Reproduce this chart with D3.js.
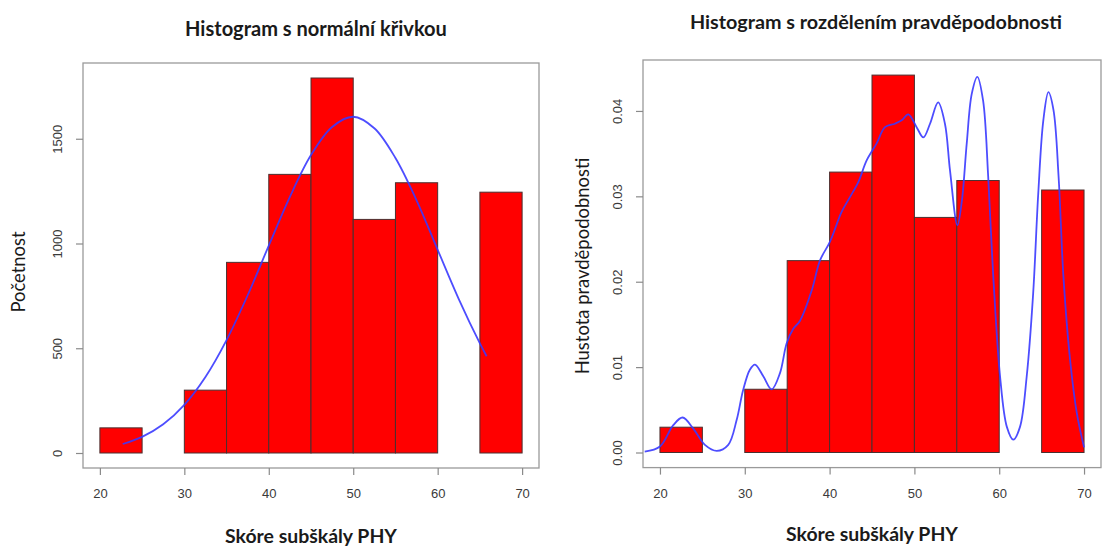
<!DOCTYPE html>
<html>
<head>
<meta charset="utf-8">
<script src="https://cdn.jsdelivr.net/npm/d3@7"></script>
<style>
  html, body { margin: 0; padding: 0; background: #fff; }
  svg { display: block; }
</style>
</head>
<body>
<svg id="chart" width="1102" height="547"></svg>
<script>
// Histogram bins of the PHY subscale score
const binStarts = [20, 25, 30, 35, 40, 45, 50, 55, 60, 65];
const binWidth = 5;
const counts = [120, 0, 300, 910, 1330, 1790, 1115, 1290, 0, 1245];

// Axis ticks
const xTicks = [20, 30, 40, 50, 60, 70];
const countTicks = [0, 500, 1000, 1500];
const densityTicks = [0, 0.01, 0.02, 0.03, 0.04];
const densityTickLabels = ["0.00", "0.01", "0.02", "0.03", "0.04"];

// Fitted normal curve (frequency scale)
const normalX = [22.7, 25, 27.5, 30, 32.5, 35, 37.5, 40, 42.5, 45, 47.5, 50, 52.5, 55, 57.5, 60, 62.5, 65, 65.8];
const normalY = [43, 77, 137, 230, 363, 539, 753, 990, 1223, 1422, 1556, 1605, 1550, 1408, 1206, 970, 735, 523, 462];

// Kernel density estimate (density scale)
const kdeX = [18.2, 20, 21.57, 22.67, 23.93, 25.3, 26.7, 28.05, 29.04, 29.8, 30.6, 31.2, 32.2, 33.17, 34.15, 34.94,
  35.72, 36.5, 37.9, 38.87, 40.05, 41.43, 42.4, 43.4, 44.37, 45.55, 46.53, 47.7, 48.5, 49.28, 50.26, 51.05,
  51.84, 52.8, 53.6, 54.2, 55.07, 55.6, 56.17, 56.76, 57.42, 58.1, 58.7, 59.3, 60.1, 60.9, 61.66, 62.45,
  63.24, 64.0, 64.6, 65.2, 65.8, 66.4, 67.0, 67.57, 68.36, 69.15, 70.0];
const kdeY = [0.0001, 0.0007, 0.0032, 0.0041, 0.0028, 0.0009, 0.0002, 0.0009, 0.0038, 0.0073, 0.0097, 0.0103, 0.0089, 0.0074, 0.0093, 0.0128,
  0.0145, 0.0154, 0.0190, 0.0225, 0.0247, 0.0282, 0.0299, 0.0317, 0.0342, 0.0362, 0.0381, 0.0385, 0.0389, 0.0396, 0.0381, 0.0369,
  0.0385, 0.0410, 0.0385, 0.0330, 0.0266, 0.0295, 0.0362, 0.0420, 0.0440, 0.0412, 0.0323, 0.0206, 0.0089, 0.0030, 0.0015, 0.0030,
  0.0089, 0.0186, 0.0303, 0.0389, 0.0422, 0.0401, 0.0323, 0.0206, 0.0108, 0.0046, 0.0006];

const total = d3.sum(counts);
const densities = counts.map(c => c / (total * binWidth));

const svg = d3.select("#chart");
const titleFont = "Lato, 'Open Sans', sans-serif";
const tickFont = "'Liberation Sans', Arial, sans-serif";

// scale a label's font size so it spans the given length
function fitText(sel, length, base) {
  sel.style("font-size", base + "px");
  const w = sel.node().getComputedTextLength();
  sel.style("font-size", (base * length / w).toFixed(2) + "px");
}

function drawPanel(cfg) {
  const g = svg.append("g");
  const x = d3.scaleLinear().domain([18, 72]).range([cfg.left, cfg.right]);
  const pad = cfg.ymax * 0.04;
  const y = d3.scaleLinear().domain([-pad, cfg.ymax + pad]).range([cfg.bottom, cfg.top]);

  const clipId = "clip-" + cfg.id;
  svg.append("clipPath").attr("id", clipId)
    .append("rect").attr("x", cfg.left).attr("y", cfg.top)
    .attr("width", cfg.right - cfg.left).attr("height", cfg.bottom - cfg.top);

  // bars
  g.append("g").selectAll("rect")
    .data(binStarts.map((s, i) => ({ s, v: cfg.values[i] })))
    .join("rect")
    .attr("x", d => x(d.s))
    .attr("width", d => x(d.s + binWidth) - x(d.s))
    .attr("y", d => y(d.v))
    .attr("height", d => y(0) - y(d.v))
    .attr("fill", "#ff0000")
    .attr("stroke", "#4a3030")
    .attr("stroke-width", 1);

  // curve
  const line = d3.line()
    .x(d => x(d[0])).y(d => y(d[1]))
    .curve(d3.curveCatmullRom.alpha(0.5));
  g.append("path")
    .datum(cfg.curveX.map((v, i) => [v, cfg.curveY[i]]))
    .attr("clip-path", `url(#${clipId})`)
    .attr("d", line)
    .attr("fill", "none")
    .attr("stroke", "#3a3aff")
    .attr("stroke-width", 1.8)
    .attr("stroke-opacity", 0.9);

  // box
  g.append("rect")
    .attr("x", cfg.left).attr("y", cfg.top)
    .attr("width", cfg.right - cfg.left).attr("height", cfg.bottom - cfg.top)
    .attr("fill", "none").attr("stroke", "#9a9a9a").attr("stroke-width", 1.3);

  // x axis
  const xa = g.append("g").attr("transform", `translate(0,${cfg.bottom})`)
    .call(d3.axisBottom(x).tickValues(xTicks).tickSize(7).tickSizeOuter(0).tickPadding(10));
  xa.select(".domain").remove();
  xa.selectAll(".tick line").attr("stroke", "#8a8a8a").attr("stroke-width", 1.2);
  xa.selectAll(".tick text")
    .style("font-family", tickFont).style("font-size", "13px").attr("fill", "#3a3a3a")
    .attr("y", 0).attr("dy", null)
    .attr("transform", `translate(0,${cfg.xTickY - cfg.bottom})`)
    .attr("dominant-baseline", "central");

  // y axis
  const ya = g.append("g").attr("transform", `translate(${cfg.left},0)`)
    .call(d3.axisLeft(y).tickValues(cfg.yTicks).tickSize(7).tickSizeOuter(0)
      .tickFormat((d, i) => cfg.yTickLabels[i]));
  ya.select(".domain").remove();
  ya.selectAll(".tick line").attr("stroke", "#8a8a8a").attr("stroke-width", 1.2);
  ya.selectAll(".tick text")
    .style("font-family", tickFont).style("font-size", "13px").attr("fill", "#3a3a3a")
    .attr("x", null).attr("dy", null)
    .attr("text-anchor", "middle").attr("dominant-baseline", "central")
    .attr("transform", `translate(${cfg.yTickX - cfg.left},0) rotate(-90)`);

  // titles
  const t = svg.append("text")
    .attr("x", cfg.titleX).attr("y", cfg.titleY)
    .attr("text-anchor", "middle").attr("dominant-baseline", "central")
    .style("font-family", titleFont).style("font-weight", "bold").attr("fill", "#1a1a1a")
    .text(cfg.title);
  fitText(t, cfg.titleW, 15);

  const xl = svg.append("text")
    .attr("x", (cfg.left + cfg.right) / 2).attr("y", cfg.xLabelY)
    .attr("text-anchor", "middle").attr("dominant-baseline", "central")
    .style("font-family", titleFont).style("font-weight", "bold").attr("fill", "#1a1a1a")
    .text("Skóre subškály PHY");
  fitText(xl, 172, 16);

  const yl = svg.append("text")
    .attr("transform", `translate(${cfg.yLabelX},${cfg.yLabelY}) rotate(-90)`)
    .attr("text-anchor", "middle").attr("dominant-baseline", "central")
    .style("font-family", titleFont).attr("fill", "#1a1a1a")
    .text(cfg.yLabel);
  fitText(yl, cfg.yLabelW, 14);
}

drawPanel({
  id: "freq",
  left: 83, right: 539, top: 63, bottom: 468,
  ymax: d3.max(counts),
  values: counts,
  curveX: normalX, curveY: normalY,
  yTicks: countTicks, yTickLabels: countTicks.map(String),
  xTickY: 493, yTickX: 57,
  title: "Histogram s normální křivkou", titleX: 316, titleY: 28, titleW: 262,
  xLabelY: 535,
  yLabel: "Početnost", yLabelX: 18, yLabelY: 272, yLabelW: 81
});

drawPanel({
  id: "dens",
  left: 643, right: 1101, top: 60, bottom: 467.6,
  ymax: Math.max(d3.max(densities), d3.max(kdeY)),
  values: densities,
  curveX: kdeX, curveY: kdeY,
  yTicks: densityTicks, yTickLabels: densityTickLabels,
  xTickY: 493, yTickX: 617,
  title: "Histogram s rozdělením pravděpodobnosti", titleX: 876, titleY: 21, titleW: 372,
  xLabelY: 533,
  yLabel: "Hustota pravděpodobnosti", yLabelX: 582, yLabelY: 266, yLabelW: 217
});
</script>
</body>
</html>
